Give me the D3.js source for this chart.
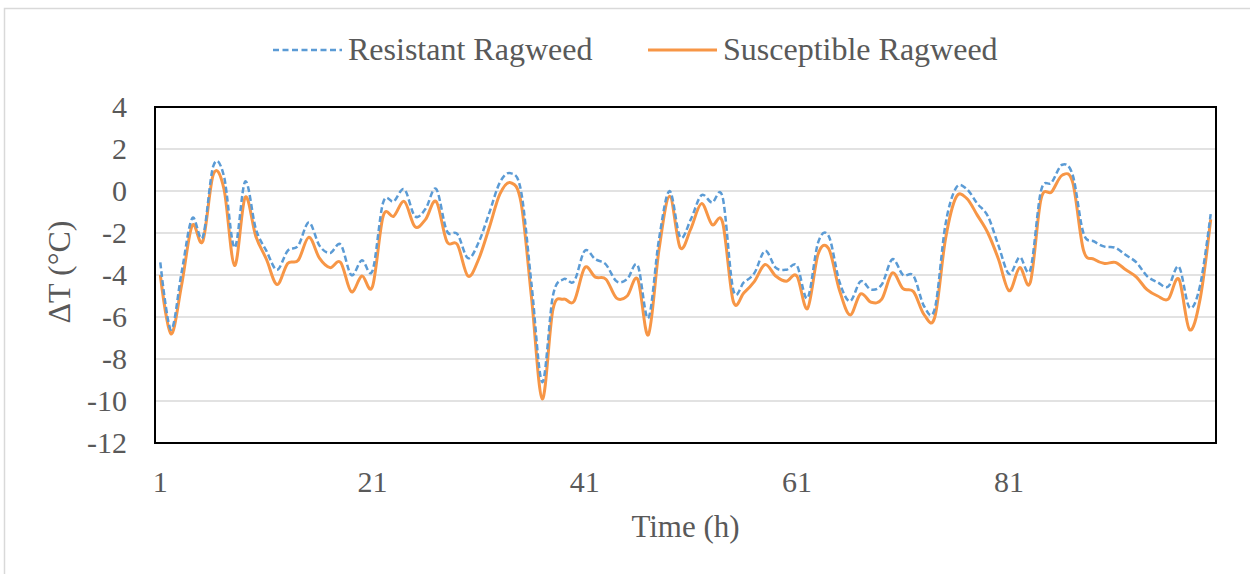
<!DOCTYPE html>
<html>
<head>
<meta charset="utf-8">
<script src="https://cdn.jsdelivr.net/npm/d3@7"></script>
<style>
    body { margin: 0; background: #fff; }
    text { font-family: 'Liberation Serif', 'Times New Roman', serif; fill: #595959; }
</style>
</head>
<body>
<div id="chart-area"></div>
<script>
const hours = d3.range(1, 101);

const resistant = [
    -3.4, -6.6, -3.9, -1.3, -2.2, 1.2, 0.7, -2.7, 0.45, -1.8,
    -2.85, -3.75, -2.85, -2.6, -1.5, -2.6, -2.95, -2.55, -4.0, -3.3,
    -3.8, -0.55, -0.5, 0.08, -1.2, -0.85, 0.1, -1.9, -2.05, -3.2,
    -2.45, -1.05, 0.4, 0.85, 0.0, -4.5, -9.1, -5.0, -4.2, -4.3,
    -2.85, -3.25, -3.5, -4.3, -4.2, -3.55, -6.05, -2.3, 0.0, -2.2,
    -1.35, -0.2, -0.55, -0.3, -4.7, -4.35, -3.9, -2.85, -3.65, -3.75,
    -3.55, -5.1, -2.45, -2.15, -4.3, -5.25, -4.3, -4.7, -4.45, -3.25,
    -4.0, -4.05, -5.5, -5.6, -1.6, 0.15, 0.1, -0.6, -1.2, -2.6,
    -3.95, -3.15, -3.75, 0.0, 0.4, 1.25, 0.75, -2.0, -2.4, -2.65,
    -2.7, -3.05, -3.4, -4.05, -4.35, -4.55, -3.6, -5.55, -4.5, -1.1
];

const susceptible = [
    -4.0, -6.8, -4.5, -1.65, -2.4, 0.8, 0.1, -3.55, -0.3, -2.15,
    -3.25, -4.45, -3.45, -3.3, -2.2, -3.2, -3.65, -3.4, -4.8, -4.05,
    -4.55, -1.2, -1.2, -0.5, -1.7, -1.35, -0.5, -2.4, -2.55, -4.05,
    -3.25, -1.75, -0.15, 0.4, -0.55, -5.15, -9.9, -5.65, -5.15, -5.25,
    -3.65, -4.1, -4.2, -5.1, -5.0, -4.2, -6.85, -2.8, -0.25, -2.7,
    -1.8, -0.6, -1.6, -1.5, -5.25, -4.85, -4.3, -3.5, -4.05, -4.3,
    -4.05, -5.6, -3.0, -2.75, -4.7, -5.9, -4.9, -5.3, -5.15, -3.9,
    -4.65, -4.8, -5.9, -6.0, -2.3, -0.3, -0.35, -1.15, -2.0, -3.25,
    -4.75, -3.65, -4.35, -0.4, -0.05, 0.75, 0.4, -2.8, -3.25, -3.45,
    -3.4, -3.75, -4.1, -4.7, -5.0, -5.15, -4.2, -6.6, -5.15, -1.35
];

const xTickLabels = [1, 21, 41, 61, 81];
const yTicks = [4, 2, 0, -2, -4, -6, -8, -10, -12];

const seriesNames = ['Resistant Ragweed', 'Susceptible Ragweed'];
const seriesColors = ['#5B9BD5', '#F79646'];

const w = 1250;
const h = 574;
const plot = { left: 155, right: 1216, top: 107, bottom: 443 };

const svg = d3.select('#chart-area')
    .append('svg')
    .attr('width', w)
    .attr('height', h);

// outer chart frame (cut off on the right and bottom in the original)
svg.append('rect')
    .attr('x', 4.5)
    .attr('y', 8.5)
    .attr('width', w + 20)
    .attr('height', h + 20)
    .attr('fill', '#fff')
    .attr('stroke', '#d9d9d9')
    .attr('stroke-width', 1.5);

const x = d3.scaleBand()
    .domain(hours)
    .range([plot.left, plot.right]);

const y = d3.scaleLinear()
    .domain([-12, 4])
    .range([plot.bottom, plot.top]);

const xPos = (d) => x(d) + x.bandwidth() / 2;

// gridlines
svg.append('g')
    .selectAll('line')
    .data(yTicks)
    .enter()
    .append('line')
    .attr('x1', plot.left)
    .attr('x2', plot.right)
    .attr('y1', (d) => y(d))
    .attr('y2', (d) => y(d))
    .attr('stroke', '#d9d9d9')
    .attr('stroke-width', 1.5);

// y axis labels (plain hyphen for negatives, as in the original)
const yAxis = d3.axisLeft(y)
    .tickValues(yTicks)
    .tickSize(0)
    .tickPadding(28)
    .tickFormat((d) => String(d));

svg.append('g')
    .attr('transform', `translate(${plot.left},0)`)
    .call(yAxis)
    .call((g) => g.select('.domain').remove())
    .call((g) => g.selectAll('text')
        .attr('font-size', 30)
        .attr('font-family', null)
        .attr('fill', null));

// x axis labels
const xAxis = d3.axisBottom(x)
    .tickValues(xTickLabels)
    .tickSize(0);

svg.append('g')
    .attr('transform', `translate(0,${plot.bottom})`)
    .call(xAxis)
    .call((g) => g.select('.domain').remove())
    .call((g) => g.selectAll('text')
        .attr('y', 49)
        .attr('dy', null)
        .attr('font-size', 30)
        .attr('font-family', null)
        .attr('fill', null));

// series
const line = d3.line()
    .x((d, i) => xPos(hours[i]))
    .y((d) => y(d))
    .curve(d3.curveCardinal.tension(0));

svg.append('path')
    .datum(susceptible)
    .attr('d', line)
    .attr('fill', 'none')
    .attr('stroke', seriesColors[1])
    .attr('stroke-width', 3);

svg.append('path')
    .datum(resistant)
    .attr('d', line)
    .attr('fill', 'none')
    .attr('stroke', seriesColors[0])
    .attr('stroke-width', 2.5)
    .attr('stroke-dasharray', '6,3');

// plot border
svg.append('rect')
    .attr('x', plot.left)
    .attr('y', plot.top)
    .attr('width', plot.right - plot.left)
    .attr('height', plot.bottom - plot.top)
    .attr('fill', 'none')
    .attr('stroke', '#000')
    .attr('stroke-width', 2);

// axis titles
svg.append('text')
    .attr('x', (plot.left + plot.right) / 2)
    .attr('y', 537)
    .attr('text-anchor', 'middle')
    .attr('font-size', 31)
    .text('Time (h)');

svg.append('text')
    .attr('transform', 'translate(70,272) rotate(-90)')
    .attr('text-anchor', 'middle')
    .attr('font-size', 32)
    .text('ΔT (°C)');

// legend
const legendItems = [
    { x1: 273, x2: 342, tx: 348, dash: '6,3.5', width: 2.5 },
    { x1: 648, x2: 717, tx: 723, dash: null, width: 3 }
];

const legend = svg.append('g');

legend.selectAll('line')
    .data(legendItems)
    .enter()
    .append('line')
    .attr('x1', (d) => d.x1)
    .attr('x2', (d) => d.x2)
    .attr('y1', 50)
    .attr('y2', 50)
    .attr('stroke', (d, i) => seriesColors[i])
    .attr('stroke-width', (d) => d.width)
    .attr('stroke-dasharray', (d) => d.dash);

legend.selectAll('text')
    .data(legendItems)
    .enter()
    .append('text')
    .attr('x', (d) => d.tx)
    .attr('y', 60)
    .attr('font-size', 32)
    .text((d, i) => seriesNames[i]);
</script>
</body>
</html>
